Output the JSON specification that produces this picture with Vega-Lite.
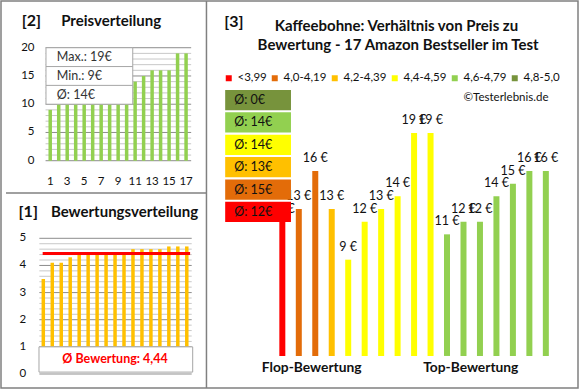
{
  "$schema": "https://vega.github.io/schema/vega-lite/v6.json",
  "width": 577,
  "height": 387,
  "padding": 1,
  "autosize": {"type": "none"},
  "background": "white",
  "config": {
    "view": {"stroke": "#808080", "strokeWidth": 1.5},
    "font": "Lato",
    "text": {"font": "Lato", "color": "#111"},
    "legend": {"labelFont": "Lato"}
  },
  "datasets": {
    "products": [
      {"i": 1, "price": 12, "rating": 3.5, "group": "<3,99", "label": "12 €"},
      {"i": 2, "price": 13, "rating": 4.1, "group": "4,0-4,19", "label": "13 €"},
      {"i": 3, "price": 16, "rating": 4.1, "group": "4,0-4,19", "label": "16 €"},
      {"i": 4, "price": 13, "rating": 4.3, "group": "4,2-4,39", "label": "13 €"},
      {"i": 5, "price": 9, "rating": 4.4, "group": "4,4-4,59", "label": "9 €"},
      {"i": 6, "price": 12, "rating": 4.4, "group": "4,4-4,59", "label": "12 €"},
      {"i": 7, "price": 13, "rating": 4.4, "group": "4,4-4,59", "label": "13 €"},
      {"i": 8, "price": 14, "rating": 4.4, "group": "4,4-4,59", "label": "14 €"},
      {"i": 9, "price": 19, "rating": 4.4, "group": "4,4-4,59", "label": "19 €"},
      {"i": 10, "price": 19, "rating": 4.4, "group": "4,4-4,59", "label": "19 €"},
      {"i": 11, "price": 11, "rating": 4.6, "group": "4,6-4,79", "label": "11 €"},
      {"i": 12, "price": 12, "rating": 4.6, "group": "4,6-4,79", "label": "12 €"},
      {"i": 13, "price": 12, "rating": 4.6, "group": "4,6-4,79", "label": "12 €"},
      {"i": 14, "price": 14, "rating": 4.6, "group": "4,6-4,79", "label": "14 €"},
      {"i": 15, "price": 15, "rating": 4.7, "group": "4,6-4,79", "label": "15 €"},
      {"i": 16, "price": 16, "rating": 4.7, "group": "4,6-4,79", "label": "16 €"},
      {"i": 17, "price": 16, "rating": 4.7, "group": "4,6-4,79", "label": "16 €"}
    ],
    "pricesSorted": [
      {"rank": 1, "price": 9}, {"rank": 2, "price": 11}, {"rank": 3, "price": 12},
      {"rank": 4, "price": 12}, {"rank": 5, "price": 12}, {"rank": 6, "price": 12},
      {"rank": 7, "price": 13}, {"rank": 8, "price": 13}, {"rank": 9, "price": 13},
      {"rank": 10, "price": 14}, {"rank": 11, "price": 14}, {"rank": 12, "price": 15},
      {"rank": 13, "price": 16}, {"rank": 14, "price": 16}, {"rank": 15, "price": 16},
      {"rank": 16, "price": 19}, {"rank": 17, "price": 19}
    ],
    "groupAvg": [
      {"group": "4,8-5,0", "label": "Ø: 0€"},
      {"group": "4,6-4,79", "label": "Ø: 14€"},
      {"group": "4,4-4,59", "label": "Ø: 14€"},
      {"group": "4,2-4,39", "label": "Ø: 13€"},
      {"group": "4,0-4,19", "label": "Ø: 15€"},
      {"group": "<3,99", "label": "Ø: 12€"}
    ],
    "p2xTicks": [{"t": 1}, {"t": 3}, {"t": 5}, {"t": 7}, {"t": 9}, {"t": 11}, {"t": 13}, {"t": 15}, {"t": 17}],
    "gridP2minor": [{"v": 1}, {"v": 2}, {"v": 3}, {"v": 4}, {"v": 6}, {"v": 7}, {"v": 8}, {"v": 9}, {"v": 11}, {"v": 12}, {"v": 13}, {"v": 14}, {"v": 16}, {"v": 17}, {"v": 18}, {"v": 19}],
    "gridP2major": [{"v": 0}, {"v": 5}, {"v": 10}, {"v": 15}, {"v": 20}],
    "gridP1minor": [{"v": 1.2}, {"v": 1.4}, {"v": 1.6}, {"v": 1.8}, {"v": 2.2}, {"v": 2.4}, {"v": 2.6}, {"v": 2.8}, {"v": 3.2}, {"v": 3.4}, {"v": 3.6}, {"v": 3.8}, {"v": 4.2}, {"v": 4.4}, {"v": 4.6}, {"v": 4.8}],
    "gridP1major": [{"v": 0}, {"v": 1}, {"v": 2}, {"v": 3}, {"v": 4}, {"v": 5}]
  },
  "resolve": {"scale": {"x": "independent", "y": "independent"}},
  "layer": [
    {
      "layer": [
        {
          "data": {"name": "gridP2minor"},
          "mark": {"type": "rule", "color": "#C8C8C8", "strokeWidth": 1},
          "encoding": {
            "y": {"field": "v", "type": "quantitative", "scale": {"domain": [-40.23, 28.27], "nice": false, "zero": false}, "axis": null},
            "x": {"datum": 0.45, "type": "quantitative", "scale": {"domain": [-4.208, 62.57], "nice": false, "zero": false}, "axis": null},
            "x2": {"datum": 17.6}
          }
        },
        {
          "data": {"name": "gridP2major"},
          "mark": {"type": "rule", "color": "#8C8C8C", "strokeWidth": 1},
          "encoding": {
            "y": {"field": "v", "type": "quantitative", "axis": null},
            "x": {"datum": 0.45, "type": "quantitative", "axis": null},
            "x2": {"datum": 17.6}
          }
        },
        {
          "data": {"name": "gridP2major"},
          "mark": {"type": "text", "align": "right", "baseline": "middle", "fontSize": 11.5, "color": "#111"},
          "encoding": {
            "y": {"field": "v", "type": "quantitative", "axis": null},
            "x": {"datum": -0.85, "type": "quantitative", "axis": null},
            "text": {"field": "v"}
          }
        },
        {
          "data": {"name": "p2xTicks"},
          "mark": {"type": "text", "align": "center", "baseline": "middle", "fontSize": 11.5, "color": "#111"},
          "encoding": {
            "x": {"field": "t", "type": "quantitative", "axis": null},
            "y": {"datum": -3.72, "type": "quantitative", "axis": null},
            "text": {"field": "t"}
          }
        },
        {
          "data": {"name": "pricesSorted"},
          "mark": {"type": "bar", "color": "#92D050", "width": 3.5},
          "encoding": {
            "x": {"field": "rank", "type": "quantitative", "axis": null},
            "y": {"field": "price", "type": "quantitative", "axis": null}
          }
        },
        {
          "data": {"values": [{}]},
          "mark": {"type": "rect", "fill": "white", "stroke": "#A6A6A6", "strokeWidth": 1},
          "encoding": {
            "x": {"datum": 0.5, "type": "quantitative", "axis": null},
            "x2": {"datum": 10.72},
            "y": {"datum": 20, "type": "quantitative", "axis": null},
            "y2": {"datum": 10}
          }
        },
        {
          "data": {"values": [{}]},
          "mark": {"type": "rule", "color": "#A6A6A6", "strokeWidth": 1},
          "encoding": {
            "x": {"datum": 0.5, "type": "quantitative", "axis": null},
            "x2": {"datum": 10.72},
            "y": {"datum": 16.667, "type": "quantitative", "axis": null}
          }
        },
        {
          "data": {"values": [{}]},
          "mark": {"type": "rule", "color": "#A6A6A6", "strokeWidth": 1},
          "encoding": {
            "x": {"datum": 0.5, "type": "quantitative", "axis": null},
            "x2": {"datum": 10.72},
            "y": {"datum": 13.333, "type": "quantitative", "axis": null}
          }
        },
        {
          "data": {"values": [{}]},
          "mark": {"type": "text", "align": "left", "baseline": "middle", "fontSize": 12.5, "color": "#333"},
          "encoding": {
            "x": {"datum": 1.78, "type": "quantitative", "axis": null},
            "y": {"datum": 18.33, "type": "quantitative", "axis": null},
            "text": {"value": "Max.: 19€"}
          }
        },
        {
          "data": {"values": [{}]},
          "mark": {"type": "text", "align": "left", "baseline": "middle", "fontSize": 12.5, "color": "#333"},
          "encoding": {
            "x": {"datum": 1.78, "type": "quantitative", "axis": null},
            "y": {"datum": 15, "type": "quantitative", "axis": null},
            "text": {"value": "Min.: 9€"}
          }
        },
        {
          "data": {"values": [{}]},
          "mark": {"type": "text", "align": "left", "baseline": "middle", "fontSize": 12.5, "color": "#333"},
          "encoding": {
            "x": {"datum": 1.78, "type": "quantitative", "axis": null},
            "y": {"datum": 11.67, "type": "quantitative", "axis": null},
            "text": {"value": "Ø: 14€"}
          }
        },
        {
          "data": {"values": [{}]},
          "mark": {"type": "text", "align": "center", "baseline": "middle", "fontSize": 16, "fontWeight": "bold", "color": "#111"},
          "encoding": {
            "x": {"datum": -1.23, "type": "quantitative", "axis": null},
            "y": {"datum": 24.78, "type": "quantitative", "axis": null},
            "text": {"value": "[2]"}
          }
        },
        {
          "data": {"values": [{}]},
          "mark": {"type": "text", "align": "center", "baseline": "middle", "fontSize": 15, "fontWeight": "bold", "color": "#111"},
          "encoding": {
            "x": {"datum": 8.18, "type": "quantitative", "axis": null},
            "y": {"datum": 24.78, "type": "quantitative", "axis": null},
            "text": {"value": "Preisverteilung"}
          }
        }
      ]
    },
    {
      "layer": [
        {
          "data": {"name": "gridP1minor"},
          "mark": {"type": "rule", "color": "#C8C8C8", "strokeWidth": 1},
          "encoding": {
            "y": {"field": "v", "type": "quantitative", "scale": {"domain": [-0.516, 13.744], "nice": false, "zero": false}, "axis": null},
            "x": {"datum": 0.56, "type": "quantitative", "scale": {"domain": [-3.16, 60.07], "nice": false, "zero": false}, "axis": null},
            "x2": {"datum": 17.55}
          }
        },
        {
          "data": {"name": "gridP1major"},
          "mark": {"type": "rule", "color": "#8C8C8C", "strokeWidth": 1},
          "encoding": {
            "y": {"field": "v", "type": "quantitative", "axis": null},
            "x": {"datum": 0.56, "type": "quantitative", "axis": null},
            "x2": {"datum": 17.55}
          }
        },
        {
          "data": {"name": "gridP1major"},
          "mark": {"type": "text", "align": "right", "baseline": "middle", "fontSize": 11.5, "color": "#111"},
          "encoding": {
            "y": {"field": "v", "type": "quantitative", "axis": null},
            "x": {"datum": -0.9, "type": "quantitative", "axis": null},
            "text": {"field": "v"}
          }
        },
        {
          "data": {"name": "products"},
          "mark": {"type": "bar", "color": "#FFC000", "width": 3.5},
          "encoding": {
            "x": {"field": "i", "type": "quantitative", "axis": null},
            "y": {"field": "rating", "type": "quantitative", "axis": null},
            "y2": {"datum": 1}
          }
        },
        {
          "data": {"values": [{}]},
          "mark": {"type": "rule", "color": "#FF0000", "strokeWidth": 3},
          "encoding": {
            "x": {"datum": 0.93, "type": "quantitative", "axis": null},
            "x2": {"datum": 17.37},
            "y": {"datum": 4.44, "type": "quantitative", "axis": null}
          }
        },
        {
          "data": {"values": [{}]},
          "mark": {"type": "rect", "fill": "white", "stroke": "#A6A6A6", "strokeWidth": 1},
          "encoding": {
            "x": {"datum": 0.52, "type": "quantitative", "axis": null},
            "x2": {"datum": 17.66},
            "y": {"datum": 1, "type": "quantitative", "axis": null},
            "y2": {"datum": 0.07}
          }
        },
        {
          "data": {"values": [{}]},
          "mark": {"type": "text", "align": "center", "baseline": "middle", "fontSize": 12.5, "fontWeight": "bold", "color": "#FF0000"},
          "encoding": {
            "x": {"datum": 9.0, "type": "quantitative", "axis": null},
            "y": {"datum": 0.55, "type": "quantitative", "axis": null},
            "text": {"value": "Ø Bewertung: 4,44"}
          }
        },
        {
          "data": {"values": [{}]},
          "mark": {"type": "text", "align": "center", "baseline": "middle", "fontSize": 16, "fontWeight": "bold", "color": "#111"},
          "encoding": {
            "x": {"datum": -0.68, "type": "quantitative", "axis": null},
            "y": {"datum": 5.98, "type": "quantitative", "axis": null},
            "text": {"value": "[1]"}
          }
        },
        {
          "data": {"values": [{}]},
          "mark": {"type": "text", "align": "center", "baseline": "middle", "fontSize": 15, "fontWeight": "bold", "color": "#111"},
          "encoding": {
            "x": {"datum": 10.06, "type": "quantitative", "axis": null},
            "y": {"datum": 5.98, "type": "quantitative", "axis": null},
            "text": {"value": "Bewertungsverteilung"}
          }
        },
        {
          "data": {"values": [{}]},
          "mark": {"type": "rule", "color": "#808080", "strokeWidth": 1.5},
          "encoding": {
            "x": {"datum": -3.16, "type": "quantitative", "axis": null},
            "x2": {"datum": 19.19},
            "y": {"datum": 6.669, "type": "quantitative", "axis": null}
          }
        }
      ]
    },
    {
      "resolve": {"scale": {"y": "independent"}},
      "layer": [
        {
          "layer": [
            {
              "data": {"name": "products"},
              "mark": {"type": "bar", "width": 6},
              "encoding": {
                "x": {"field": "i", "type": "quantitative", "scale": {"domain": [-15.778, 18.649], "nice": false, "zero": false}, "axis": null},
                "y": {"field": "price", "type": "quantitative", "scale": {"domain": [-1.13, 29.42], "nice": false, "zero": false}, "axis": null},
                "y2": {"datum": 1.4},
                "color": {
                  "field": "group", "type": "nominal",
                  "scale": {"domain": ["<3,99", "4,0-4,19", "4,2-4,39", "4,4-4,59", "4,6-4,79", "4,8-5,0"], "range": ["#FF0000", "#E36C09", "#FFC000", "#FFFF00", "#92D050", "#77933C"]},
                  "legend": {"orient": "none", "legendX": 222, "legendY": 71.5, "direction": "horizontal", "columns": 6, "gridAlign": "none", "title": null, "symbolType": "square", "symbolSize": 36, "symbolStrokeWidth": 0, "labelFontSize": 11.5, "labelColor": "#111", "labelOffset": 3, "columnPadding": 2, "padding": 0}
                }
              }
            },
            {
              "data": {"name": "products"},
              "mark": {"type": "text", "align": "center", "baseline": "middle", "dy": -13, "fontSize": 12.5, "color": "#111"},
              "encoding": {
                "x": {"field": "i", "type": "quantitative", "axis": null},
                "y": {"field": "price", "type": "quantitative", "axis": null},
                "text": {"field": "label"}
              }
            },
            {
              "data": {"values": [{}]},
              "mark": {"type": "text", "align": "center", "baseline": "middle", "fontSize": 16, "fontWeight": "bold", "color": "#111"},
              "encoding": {
                "x": {"datum": -1.94, "type": "quantitative", "axis": null},
                "y": {"datum": 27.78, "type": "quantitative", "axis": null},
                "text": {"value": "[3]"}
              }
            },
            {
              "data": {"values": [{}]},
              "mark": {"type": "text", "align": "center", "baseline": "middle", "fontSize": 15, "fontWeight": "bold", "color": "#111"},
              "encoding": {
                "x": {"datum": 7.93, "type": "quantitative", "axis": null},
                "y": {"datum": 27.44, "type": "quantitative", "axis": null},
                "text": {"value": "Kaffeebohne: Verhältnis von Preis zu"}
              }
            },
            {
              "data": {"values": [{}]},
              "mark": {"type": "text", "align": "center", "baseline": "middle", "fontSize": 15, "fontWeight": "bold", "color": "#111"},
              "encoding": {
                "x": {"datum": 8.03, "type": "quantitative", "axis": null},
                "y": {"datum": 25.94, "type": "quantitative", "axis": null},
                "text": {"value": "Bewertung - 17 Amazon Bestseller im Test"}
              }
            },
            {
              "data": {"values": [{}]},
              "mark": {"type": "text", "align": "right", "baseline": "middle", "fontSize": 11.5, "color": "#111"},
              "encoding": {
                "x": {"datum": 17.16, "type": "quantitative", "axis": null},
                "y": {"datum": 21.74, "type": "quantitative", "axis": null},
                "text": {"value": "©Testerlebnis.de"}
              }
            },
            {
              "data": {"values": [{}]},
              "mark": {"type": "text", "align": "center", "baseline": "middle", "fontSize": 13.8, "fontWeight": "bold", "color": "#111"},
              "encoding": {
                "x": {"datum": 2.78, "type": "quantitative", "axis": null},
                "y": {"datum": 0.43, "type": "quantitative", "axis": null},
                "text": {"value": "Flop-Bewertung"}
              }
            },
            {
              "data": {"values": [{}]},
              "mark": {"type": "text", "align": "center", "baseline": "middle", "fontSize": 13.8, "fontWeight": "bold", "color": "#111"},
              "encoding": {
                "x": {"datum": 12.44, "type": "quantitative", "axis": null},
                "y": {"datum": 0.43, "type": "quantitative", "axis": null},
                "text": {"value": "Top-Bewertung"}
              }
            },
            {
              "data": {"values": [{}]},
              "mark": {"type": "rule", "color": "#808080", "strokeWidth": 1.5},
              "encoding": {
                "x": {"datum": -3.606, "type": "quantitative", "axis": null},
                "y": {"datum": -1.13, "type": "quantitative", "axis": null},
                "y2": {"datum": 29.42}
              }
            }
          ]
        },
        {
          "data": {"name": "groupAvg"},
          "layer": [
            {
              "mark": {"type": "bar"},
              "encoding": {
                "x": {"datum": -2.47, "type": "quantitative", "axis": null},
                "x2": {"datum": 1.525},
                "y": {"field": "group", "type": "nominal", "sort": null, "scale": {"type": "band", "domain": ["4,8-5,0", "4,6-4,79", "4,4-4,59", "4,2-4,39", "4,0-4,19", "<3,99"], "range": [89, 221], "paddingInner": 0.1, "paddingOuter": 0}, "axis": null},
                "color": {"field": "group", "type": "nominal", "legend": null}
              }
            },
            {
              "mark": {"type": "text", "align": "left", "baseline": "middle", "fontSize": 12.5, "color": "#111"},
              "encoding": {
                "x": {"datum": -1.92, "type": "quantitative", "axis": null},
                "y": {"field": "group", "type": "nominal", "sort": null, "axis": null},
                "text": {"field": "label"}
              }
            }
          ]
        }
      ]
    }
  ]
}
